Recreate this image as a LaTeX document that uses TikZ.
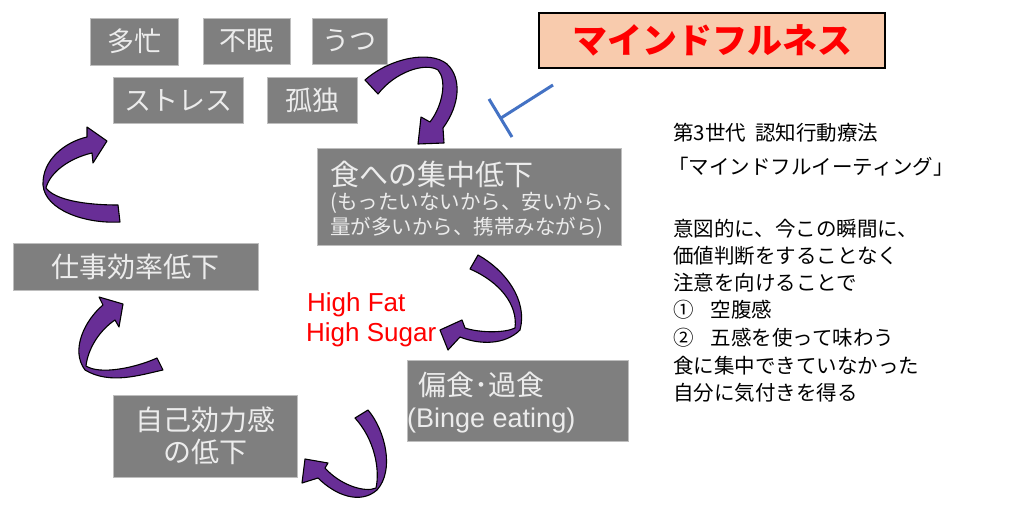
\documentclass[tikz,border=0pt]{standalone}
\usepackage{fontspec}
\setmainfont{Noto Sans CJK JP}
\newfontfamily\arialf{Liberation Sans}
\definecolor{boxgray}{RGB}{127,127,127}
\definecolor{boxedge}{RGB}{190,190,190}
\definecolor{boxtext}{RGB}{236,236,236}
\definecolor{ribpurple}{RGB}{104,46,150}
\definecolor{peach}{RGB}{248,203,173}
\definecolor{tblue}{RGB}{68,114,196}
\newcommand{\fs}[1]{\fontsize{#1}{#1}\selectfont}
\begin{document}
\begin{tikzpicture}[x=1pt,y=-1pt,
  gbox/.style={rectangle, fill=boxgray, draw=boxedge, line width=0.6pt, text=boxtext, inner sep=0pt, align=center},
  ribbon/.style={fill=ribpurple, draw=black, line width=1.1pt, line join=round},
  rtext/.style={anchor=west, inner sep=0pt, font=\fs{20.5}},
  btext/.style={anchor=west, inner sep=0pt, text=boxtext}]
\useasboundingbox (0,0) rectangle (1024,516);
\fill[white] (0,0) rectangle (1024,516);

% gray boxes
\node[gbox, minimum width=88, minimum height=47, font=\fs{27}] (tabo) at (134,41.5) {多忙};
\node[gbox, minimum width=87, minimum height=46, font=\fs{27}] (fumin) at (246.5,41) {不眠};
\node[gbox, minimum width=75, minimum height=46, font=\fs{27}] (utsu) at (349.5,41) {うつ};
\node[gbox, minimum width=130, minimum height=46, font=\fs{27}] (stress) at (178,100) {ストレス};
\node[gbox, minimum width=90, minimum height=46, font=\fs{27}] (kodoku) at (312,100) {孤独};
\node[gbox, minimum width=304, minimum height=97] (shoku) at (469,196.5) {};
\node[btext, font=\fs{29}] (shoku1) at (330,174) {食への集中低下};
\node[btext, font=\fs{20.5}] (shoku2) at (330,203) {(もったいないから、安いから、};
\node[btext, font=\fs{20.5}] (shoku3) at (330,228) {量が多いから、携帯みながら)};
\node[gbox, minimum width=245, minimum height=47, font=\fs{28}] (shigoto) at (135.5,266.5) {仕事効率低下};
\node[gbox, minimum width=184, minimum height=82, font=\fontsize{28}{32}\selectfont] (jiko) at (205,436) {自己効力感\\の低下};
\node[gbox, minimum width=221, minimum height=81] (henshoku) at (517.5,400.5) {};
\node[btext, font=\fs{28}] (hen1) at (418,385) {偏食･過食};
\node[btext, font=\arialf\fs{27}] (hen2) at (407,421) {(Binge eating)};

% mindfulness box
\node[rectangle, fill=peach, draw=black, line width=1.3pt, minimum width=346, minimum height=55, inner sep=0pt, text=red, font=\bfseries\fs{35}] (mind) at (712,40.5) {マインドフルネス};

% inhibition T
\coordinate (t0) at (553,85);
\coordinate (t1) at (501,118);
\coordinate (ta) at (489,99);
\coordinate (tb) at (512,137);
\draw[tblue, line width=3pt] (t0) -- (t1);
\draw[tblue, line width=3pt] (ta) -- (tb);

% High Fat High Sugar
\node[anchor=west, inner sep=0pt, text=red, font=\arialf\fs{26}] (hf) at (307,305) {High Fat};
\node[anchor=west, inner sep=0pt, text=red, font=\arialf\fs{26}] (hs) at (306,335) {High Sugar};

% ribbons
% A: kodoku -> shoku
\filldraw[ribbon] (365,80) .. controls (390,58) and (430,50) .. (447,64) .. controls (462,78) and (460,105) .. (443,128) -- (444,143) -- (418,144) -- (421,117) -- (430,122) .. controls (443,105) and (447,80) .. (438,70) .. controls (425,62) and (395,72) .. (378,94) -- cycle;
% B: shigoto -> stress
\filldraw[ribbon] (120,222) .. controls (85,224) and (45,210) .. (43,185) .. controls (42,160) and (65,142) .. (87,137) -- (87,127) -- (107,141) -- (93,163) -- (92,153) .. controls (70,158) and (50,172) .. (46,188) .. controls (55,200) and (85,205) .. (118,205) -- cycle;
% C: shoku -> henshoku
\filldraw[ribbon] (478,255) .. controls (505,270) and (528,300) .. (520,330) .. controls (505,345) and (480,345) .. (460,337) -- (448,350) -- (440,330) -- (462,320) -- (465,328) .. controls (480,333) and (505,333) .. (515,328) .. controls (518,305) and (500,282) .. (470,269) -- cycle;
% D: jiko -> shigoto
\filldraw[ribbon] (103,305) .. controls (85,320) and (70,350) .. (85,370) .. controls (110,385) and (140,375) .. (163,370) -- (157,358) .. controls (135,368) and (100,375) .. (86,366) .. controls (88,348) and (100,330) .. (115,320) -- (119,327) -- (123,304) -- (99,297) -- cycle;
% E: henshoku -> jiko
\filldraw[ribbon] (368,410) .. controls (385,430) and (395,470) .. (377,490) .. controls (360,505) and (335,495) .. (318,478) -- (302,483) -- (305,459) -- (328,463) -- (325,468) .. controls (340,485) and (365,493) .. (376,488) .. controls (380,470) and (375,440) .. (355,418) -- cycle;

% right text
\node[rtext] (r1) at (673,133) {第3世代\hspace{9pt}認知行動療法};
\node[rtext] (r2) at (668,167) {「マインドフルイーティング」};
\node[rtext] (r3) at (673,229) {意図的に、今この瞬間に、};
\node[rtext] (r4) at (673,256) {価値判断をすることなく};
\node[rtext] (r5) at (673,283) {注意を向けることで};
\node[rtext] (r6) at (673,310) {①\hspace{17pt}空腹感};
\node[rtext] (r7) at (673,338) {②\hspace{17pt}五感を使って味わう};
\node[rtext] (r8) at (673,366) {食に集中できていなかった};
\node[rtext] (r9) at (673,393) {自分に気付きを得る};
\end{tikzpicture}
\end{document}
